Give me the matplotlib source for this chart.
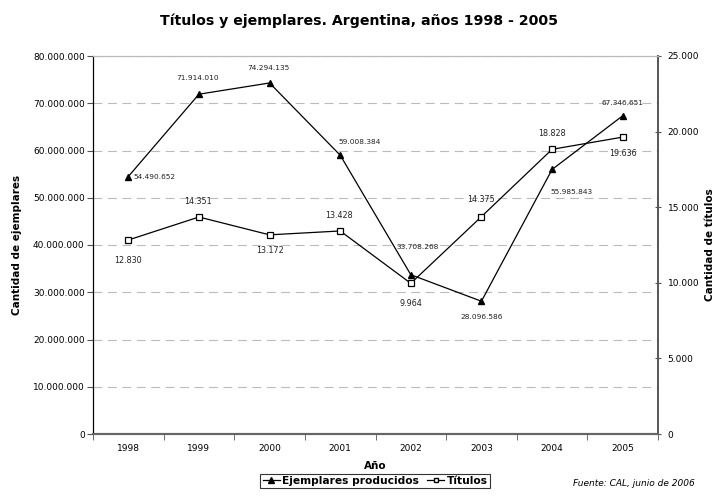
import matplotlib
matplotlib.use("Agg")
import matplotlib.pyplot as plt
from matplotlib.ticker import FuncFormatter
from matplotlib.lines import Line2D

years = ["1998", "1999", "2000", "2001", "2002", "2003", "2004", "2005"]
ejemplares = [54490652, 71914010, 74294135, 59008384, 33708268, 28096586, 55985843, 67346651]
titulos = [12830, 14351, 13172, 13428, 9964, 14375, 18828, 19636]

# label offsets in points (dx, dy, ha)
ej_off = [(4, 0, "left"), (-1, 12, "center"), (-1, 11, "center"), (-1, 9.5, "left"),
          (5, 20, "center"), (0, -11.5, "center"), (-1, -16, "left"), (0, 9, "center")]
ti_off = [(0, -14.5, "center"), (-1, 11, "center"), (0, -11, "center"), (-1, 11, "center"),
          (0, -14.5, "center"), (0, 12, "center"), (0, 11.5, "center"), (0, -12, "center")]


def miles(v, pos=None):
    return f"{int(round(v)):,}".replace(",", ".")


plt.rcParams['font.family'] = ['DejaVu Sans']
fig = plt.figure(figsize=(7.17, 5.0), dpi=100)
ax = fig.add_axes([93 / 717, 1 - 434 / 500, (658 - 93) / 717, (434 - 56) / 500])
ax2 = ax.twinx()

x = list(range(len(years)))
ax.plot(x, ejemplares, color="black", lw=0.9, marker="^", ms=5, mfc="black", zorder=3)
ax2.plot(x, titulos, color="black", lw=0.9, marker="s", ms=4.5, mfc="white", mew=0.9, zorder=3)

for i, v in enumerate(ejemplares):
    dx, dy, ha = ej_off[i]
    ax.annotate(miles(v), (i, v), xytext=(dx, dy), textcoords="offset points",
                ha=ha, va="center", fontsize=5.3, color="#222222")
for i, v in enumerate(titulos):
    dx, dy, ha = ti_off[i]
    ax2.annotate(miles(v), (i, v), xytext=(dx, dy), textcoords="offset points",
                 ha=ha, va="center", fontsize=5.8, color="#222222")

ax.set_xlim(-0.5, len(years) - 0.5)
ax.set_ylim(0, 80000000)
ax2.set_ylim(0, 25000)
ax.set_yticks(range(0, 80000001, 10000000))
ax2.set_yticks(range(0, 25001, 5000))
ax.yaxis.set_major_formatter(FuncFormatter(miles))
ax2.yaxis.set_major_formatter(FuncFormatter(miles))

ax.set_xticks(x)
ax.set_xticklabels(years)
ax.set_xticks([i + 0.5 for i in range(-1, len(years))], minor=True)
ax.tick_params(axis="x", which="major", length=0, labelsize=6.5, pad=7)
ax.tick_params(axis="x", which="minor", length=4, color="#555555", direction="out")
ax.tick_params(axis="y", labelsize=6.5, length=4, color="#555555", pad=2)
ax2.tick_params(axis="y", labelsize=6.5, length=4, color="#555555", direction="inout", pad=5)

ax.grid(axis="y", color="#bbbbbb", ls=(0, (8, 5)), lw=0.8)
ax.set_axisbelow(True)

for a in (ax, ax2):
    a.spines["top"].set_color("#bbbbbb")
    a.spines["top"].set_linewidth(0.8)
    a.spines["bottom"].set_color("#666666")
    a.spines["bottom"].set_linewidth(1.5)
    a.spines["left"].set_color("black")
    a.spines["right"].set_color("#555555")
    a.spines["right"].set_linewidth(1.2)

ax.set_xlabel("Año", fontsize=7.5, fontweight="bold", labelpad=6)
ax.set_ylabel("Cantidad de ejemplares", fontsize=7.5, fontweight="bold", labelpad=8)
ax2.set_ylabel("Cantidad de títulos", fontsize=7.5, fontweight="bold", labelpad=4)

fig.suptitle("Títulos y ejemplares. Argentina, años 1998 - 2005", fontsize=10.2,
             fontweight="bold", y=0.973)

handles = [Line2D([], [], color="black", lw=0.9, marker="^", ms=4, mfc="black"),
           Line2D([], [], color="black", lw=0.9, marker="s", ms=3.5, mfc="white")]
leg = fig.legend(handles, ["Ejemplares producidos", "Títulos"], loc="center",
                 bbox_to_anchor=(375 / 717, 1 - 481 / 500), ncol=2,
                 prop={"weight": "bold", "size": 7.7}, frameon=True, fancybox=False,
                 handlelength=1.6, handletextpad=0.2, columnspacing=0.8,
                 borderpad=0.2, borderaxespad=0, edgecolor="black")
leg.get_frame().set_linewidth(0.8)

fig.text(0.969, 1 - 483 / 500, "Fuente: CAL, junio de 2006", fontsize=6.5,
         style="italic", ha="right", va="center")

fig.savefig("out.png", dpi=100)
